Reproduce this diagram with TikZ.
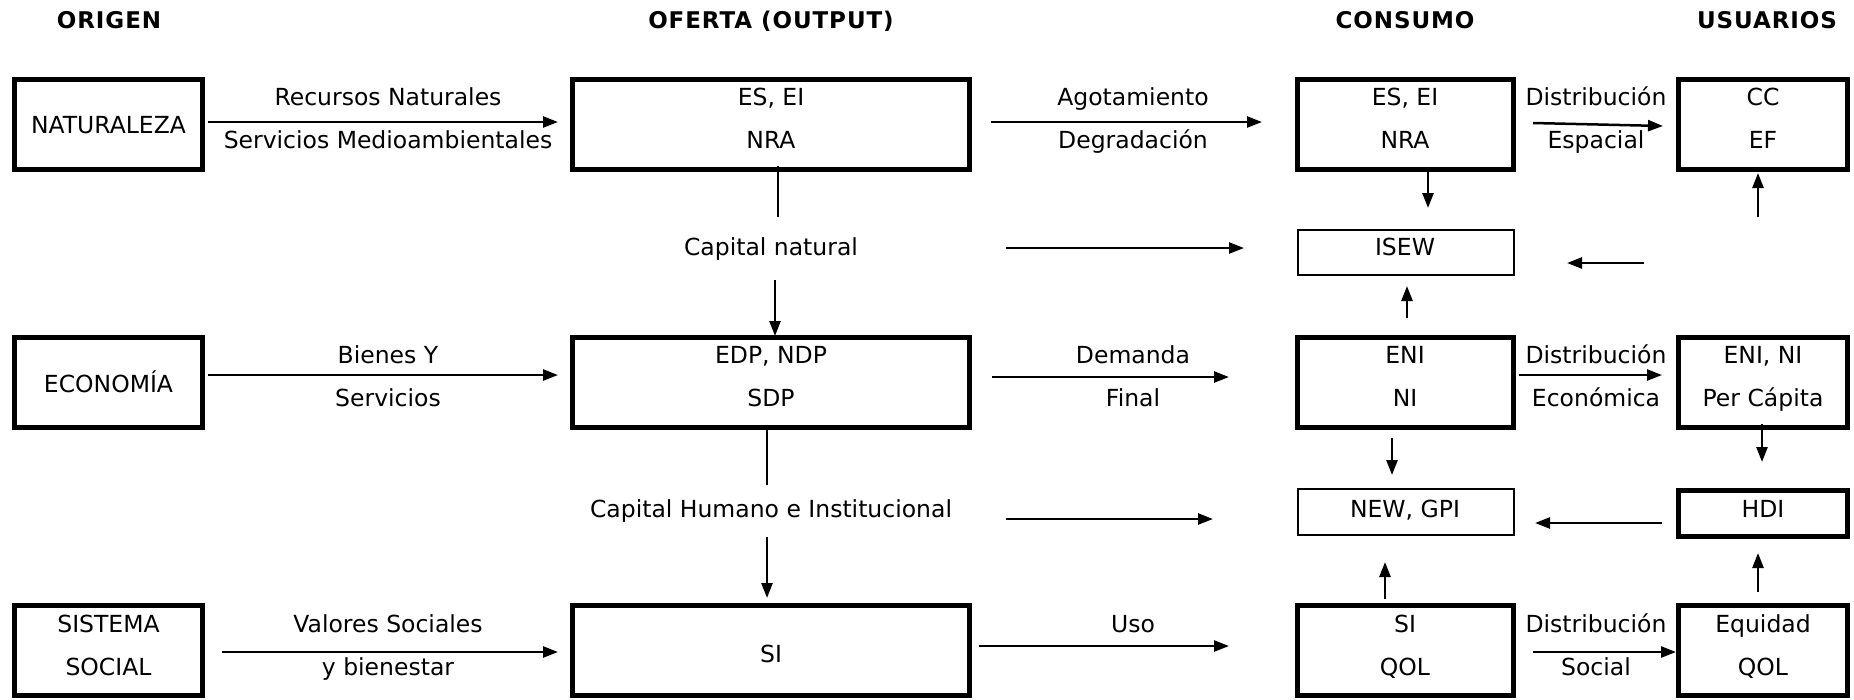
\documentclass[tikz,border=0pt]{standalone}
\usepackage{fontspec}
\setmainfont{DejaVu Sans}
\newfontfamily\headfont[LetterSpace=4]{DejaVu Sans}
\usetikzlibrary{arrows.meta}

\tikzset{
  bx/.style={draw, rectangle, line width=5pt, inner sep=0pt},
  thinbx/.style={draw, rectangle, line width=2pt, inner sep=0pt},
  colA/.style={minimum width=188pt},
  colB/.style={minimum width=397pt},
  colC/.style={minimum width=216pt},
  colD/.style={minimum width=169pt},
  tall/.style={minimum height=90pt},
  lbl/.style={inner sep=0pt, anchor=base, font=\fontsize{23.5}{28}\selectfont},
  hdr/.style={inner sep=0pt, anchor=base, font=\headfont\bfseries\fontsize{23}{28}\selectfont},
  arr/.style={line width=2.5pt, -{Triangle[length=15pt,width=11pt]}},
  ln/.style={line width=2.3pt},
}

\begin{document}
\begin{tikzpicture}[x=1pt,y=-1pt]
\useasboundingbox (0,0) rectangle (1854,699);

% column headings
\node[hdr] (hA) at (109,28) {ORIGEN};
\node[hdr] (hB) at (771,28) {OFERTA (OUTPUT)};
\node[hdr] (hC) at (1405,28) {CONSUMO};
\node[hdr] (hD) at (1767,28) {USUARIOS};

% ---- boxes ----
\node[bx,colA,tall] (nat) at (108.5,124.5) {};
\node[bx,colA,tall] (eco) at (108.5,382.5) {};
\node[bx,colA,tall] (soc) at (108.5,650) {};

\node[bx,colB,tall] (ofN) at (771,124.5) {};
\node[bx,colB,tall] (ofE) at (771,382.5) {};
\node[bx,colB,tall] (ofS) at (771,650) {};

\node[bx,colC,tall] (coN) at (1405.5,124.5) {};
\node[thinbx,colC,minimum height=45pt] (isew) at (1406,252.5) {};
\node[bx,colC,tall] (coE) at (1405.5,382.5) {};
\node[thinbx,colC,minimum height=46pt] (newg) at (1406,512) {};
\node[bx,colC,tall] (coS) at (1405.5,650) {};

\node[bx,colD,tall] (usN) at (1763,124.5) {};
\node[bx,colD,tall] (usE) at (1763,382.5) {};
\node[bx,colD,minimum height=46pt] (hdi) at (1763,513.5) {};
\node[bx,colD,tall] (usS) at (1763,650) {};

% ---- texts inside boxes ----
\node[lbl] (tnat) at (108.5,133) {NATURALEZA};
\node[lbl] (teco) at (108.5,392) {ECONOMÍA};
\node[lbl] (tsoc1) at (108.5,632) {SISTEMA};
\node[lbl] (tsoc2) at (108.5,675) {SOCIAL};

\node[lbl] (tofN1) at (771,105) {ES, EI};
\node[lbl] (tofN2) at (771,148) {NRA};
\node[lbl] (tofE1) at (771,363) {EDP, NDP};
\node[lbl] (tofE2) at (771,406) {SDP};
\node[lbl] (tofS) at (771,662) {SI};

\node[lbl] (tcoN1) at (1405,105) {ES, EI};
\node[lbl] (tcoN2) at (1405,148) {NRA};
\node[lbl] (tisew) at (1405,255) {ISEW};
\node[lbl] (tcoE1) at (1405,363) {ENI};
\node[lbl] (tcoE2) at (1405,406) {NI};
\node[lbl] (tnewg) at (1405,517) {NEW, GPI};
\node[lbl] (tcoS1) at (1405,632) {SI};
\node[lbl] (tcoS2) at (1405,675) {QOL};

\node[lbl] (tusN1) at (1763,105) {CC};
\node[lbl] (tusN2) at (1763,148) {EF};
\node[lbl] (tusE1) at (1763,363) {ENI, NI};
\node[lbl] (tusE2) at (1763,406) {Per Cápita};
\node[lbl] (thdi) at (1763,517) {HDI};
\node[lbl] (tusS1) at (1763,632) {Equidad};
\node[lbl] (tusS2) at (1763,675) {QOL};

% ---- flow labels ----
\node[lbl] (l1a) at (388,105) {Recursos Naturales};
\node[lbl] (l1b) at (388,148) {Servicios Medioambientales};
\node[lbl] (l2a) at (388,363) {Bienes Y};
\node[lbl] (l2b) at (388,406) {Servicios};
\node[lbl] (l3a) at (388,632) {Valores Sociales};
\node[lbl] (l3b) at (388,675) {y bienestar};

\node[lbl] (m1a) at (1133,105) {Agotamiento};
\node[lbl] (m1b) at (1133,148) {Degradación};
\node[lbl] (m2a) at (1133,363) {Demanda};
\node[lbl] (m2b) at (1133,406) {Final};
\node[lbl] (m3a) at (1133,632) {Uso};

\node[lbl] (r1a) at (1596,105) {Distribución};
\node[lbl] (r1b) at (1596,148) {Espacial};
\node[lbl] (r2a) at (1596,363) {Distribución};
\node[lbl] (r2b) at (1596,406) {Económica};
\node[lbl] (r3a) at (1596,632) {Distribución};
\node[lbl] (r3b) at (1596,675) {Social};

\node[lbl] (capn) at (771,255) {Capital natural};
\node[lbl] (caph) at (771,517) {Capital Humano e Institucional};

% ---- connector end points ----
\coordinate (a1s) at (208,122);  \coordinate (a1e) at (558,122);
\coordinate (a2s) at (208,375);  \coordinate (a2e) at (558,375);
\coordinate (a3s) at (222,652);  \coordinate (a3e) at (558,652);

\coordinate (b1s) at (991,122);  \coordinate (b1e) at (1262,122);
\coordinate (b2s) at (992,377);  \coordinate (b2e) at (1229,377);
\coordinate (b3s) at (979,646);  \coordinate (b3e) at (1229,646);

\coordinate (cns) at (1006,248); \coordinate (cne) at (1244,248);
\coordinate (chs) at (1006,519); \coordinate (che) at (1213,519);

\coordinate (d1s) at (1533,123); \coordinate (d1e) at (1663,126);
\coordinate (d2s) at (1519,375); \coordinate (d2e) at (1662,375);
\coordinate (d3s) at (1533,652);

\coordinate (v1s) at (778,166);  \coordinate (v1e) at (778,217);
\coordinate (v2s) at (775,280);  \coordinate (v2e) at (775,336);
\coordinate (v3s) at (767,425);  \coordinate (v3e) at (767,485);
\coordinate (v4s) at (767,537);  \coordinate (v4e) at (767,598);

\coordinate (w1e) at (1428,208);
\coordinate (w2s) at (1407,318); \coordinate (w2e) at (1407,286);
\coordinate (w3s) at (1392,438); \coordinate (w3e) at (1392,475);
\coordinate (w4s) at (1385,599); \coordinate (w4e) at (1385,562);

\coordinate (u1s) at (1644,263); \coordinate (u1e) at (1567,263);
\coordinate (u2s) at (1758,217); \coordinate (u2e) at (1758,173);
\coordinate (u3s) at (1762,424); \coordinate (u3e) at (1762,462);
\coordinate (u4s) at (1662,523); \coordinate (u4e) at (1535,523);
\coordinate (u5s) at (1758,592); \coordinate (u5e) at (1758,553);

% ---- connectors ----
\draw[arr] (a1s) -- (a1e);
\draw[arr] (a2s) -- (a2e);
\draw[arr] (a3s) -- (a3e);

\draw[arr] (b1s) -- (b1e);
\draw[arr] (b2s) -- (b2e);
\draw[arr] (b3s) -- (b3e);

\draw[arr] (cns) -- (cne);
\draw[arr] (chs) -- (che);

\draw[arr] (d1s) -- (d1e);
\draw[arr] (d2s) -- (d2e);
\draw[arr] (d3s) -- (usS.west |- d3s);

\draw[ln] (v1s) -- (v1e);
\draw[arr] (v2s) -- (v2e);
\draw[ln] (v3s) -- (v3e);
\draw[arr] (v4s) -- (v4e);

\draw[arr] (coN.south -| w1e) -- (w1e);
\draw[arr] (w2s) -- (w2e);
\draw[arr] (w3s) -- (w3e);
\draw[arr] (w4s) -- (w4e);

\draw[arr] (u1s) -- (u1e);
\draw[arr] (u2s) -- (u2e);
\draw[arr] (u3s) -- (u3e);
\draw[arr] (u4s) -- (u4e);
\draw[arr] (u5s) -- (u5e);
\end{tikzpicture}
\end{document}
